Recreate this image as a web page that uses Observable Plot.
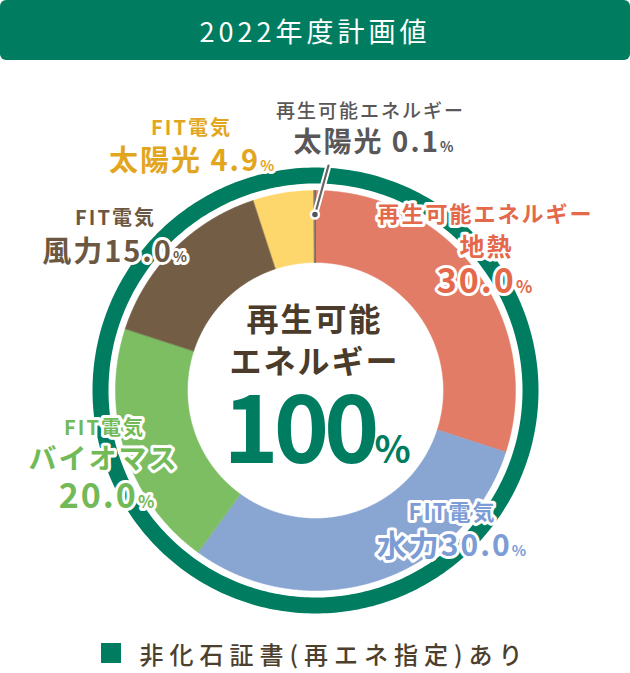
<!DOCTYPE html>
<html><head><meta charset="utf-8">
<script src="https://cdn.jsdelivr.net/npm/d3@7"></script>
<script src="https://cdn.jsdelivr.net/npm/@observablehq/plot@0.6"></script>
<style>
html,body{margin:0;padding:0;background:#fff;}
body{width:630px;height:673px;overflow:hidden;font-family:'Noto Sans CJK JP','Noto Sans',sans-serif;}
#title{height:60px;background:#007D60;border-radius:6px;color:#fff;font-size:27px;letter-spacing:4px;display:flex;align-items:center;justify-content:center;}
#chart{height:570px;}
#legend{height:43px;padding-top:3px;box-sizing:border-box;display:flex;align-items:center;justify-content:center;color:#4D3F2E;font-size:24px;font-weight:500;letter-spacing:6px;}
#legend .sw{display:inline-block;width:20px;height:20px;background:#007D60;margin-right:18px;}
</style></head><body>
<div id="title"></div>
<div id="chart"></div>
<div id="legend"><span class="sw"></span><span id="legtext"></span></div>
<script>
// ---- data ----
const titleText = "2022年度計画値";
const categories = ["地熱", "水力", "バイオマス", "風力", "太陽光(FIT)", "太陽光"];
const names = ["地熱", "水力", "バイオマス", "風力", "太陽光", "太陽光"];
const groups = ["再生可能エネルギー", "FIT電気", "FIT電気", "FIT電気", "FIT電気", "再生可能エネルギー"];
const values = [30.0, 30.0, 20.0, 15.0, 4.9, 0.1];
const centerLines = ["再生可能", "エネルギー"];
const legendText = "非化石証書(再エネ指定)あり";

// ---- styles ----
const sliceColors = ["#E27C66", "#89A5D2", "#7DBE63", "#735E45", "#FDD66C", "#666666"];
const labelColors = ["#E4694A", "#7C9CD5", "#72BA57", "#6C5842", "#E2A61E", "#595757"];
const green = "#007D60";
const brownText = "#4B3B2A";

// ---- layout (pixels relative to donut centre, y downward) ----
const R_OUT = 200, R_IN = 128, RING_R = 215, RING_W = 16;
const labelLayout = [
  [{t:"g", x:170, y:-176, s:22}, {t:"n", x:171, y:-143, s:25}, {t:"v", x:170, y:-108, s:34}],
  [{t:"g", x:137, y:122, s:22}, {t:"nv", x:137, y:156, s:30}],
  [{t:"g", x:-211, y:38, s:20}, {t:"n", x:-212, y:70, s:28}, {t:"v", x:-208, y:107, s:34}],
  [{t:"g", x:-200, y:-172, s:20}, {t:"nv", x:-200, y:-138, s:29}],
  [{t:"g", x:-124, y:-262, s:20}, {t:"n v", x:-123, y:-229, s:29}],
  [{t:"g", x:55, y:-279, s:19}, {t:"n v", x:59, y:-247, s:28}]
];
const leaderEnd = [13, -225];
const leaderDotR = 176;

document.getElementById("title").textContent = titleText;
document.getElementById("legtext").textContent = legendText;

// ---- geometry from data ----
const total = d3.sum(values);
const pt = (r, deg) => [r * Math.sin(deg * Math.PI / 180), -r * Math.cos(deg * Math.PI / 180)];
let acc = 0;
const slices = values.map((v, i) => {
  const a0 = acc / total * 360; acc += v; const a1 = acc / total * 360;
  const n = Math.max(2, Math.ceil((a1 - a0) / 0.5));
  const pts = [];
  for (let k = 0; k <= n; k++) pts.push(pt(R_OUT, a0 + (a1 - a0) * k / n));
  for (let k = n; k >= 0; k--) pts.push(pt(R_IN, a0 + (a1 - a0) * k / n));
  return {i, a0, a1, pts};
});
const ringPts = d3.range(0, 360, 1).map(a => pt(RING_R, a));

const fmt = v => v.toFixed(1) + "%";
const labelRows = [];
labelLayout.forEach((lines, i) => {
  lines.forEach(l => {
    const text = l.t === "g" ? groups[i] : l.t === "n" ? names[i] : l.t === "v" ? fmt(values[i])
      : l.t === "nv" ? names[i] + fmt(values[i]) : names[i] + " " + fmt(values[i]);
    labelRows.push({x: l.x, y: l.y, s: l.s, text, color: labelColors[i], w: l.t === "g" && i === 5 ? 500 : 700});
  });
});

const last = slices[slices.length - 1];
const dotPos = pt(leaderDotR, (last.a0 + last.a1) / 2);

const marks = [
  Plot.line(ringPts, {x: d => d[0], y: d => d[1], stroke: green, strokeWidth: RING_W, curve: "linear-closed"}),
  ...slices.map(s => Plot.line(s.pts, {x: d => d[0], y: d => d[1], fill: sliceColors[s.i], stroke: sliceColors[s.i], strokeWidth: s.i === 5 ? 0.8 : 0.5, curve: "linear-closed"})),
  Plot.line([dotPos, leaderEnd], {x: d => d[0], y: d => d[1], stroke: "white", strokeWidth: 6, strokeLinecap: "round"}),
  Plot.line([dotPos, leaderEnd], {x: d => d[0], y: d => d[1], stroke: sliceColors[5], strokeWidth: 2.2}),
  Plot.dot([dotPos], {x: d => d[0], y: d => d[1], r: 4, fill: "#555", stroke: "white", strokeWidth: 2.5}),
  ...labelRows.map(r => Plot.text([r], {x: "x", y: "y", text: "text", fill: r.color, fontSize: r.s, fontWeight: r.w,
      stroke: "white", strokeWidth: 6, strokeLinejoin: "round", paintOrder: "stroke", textAnchor: "middle"})),
  Plot.text(centerLines.map((t, k) => ({t, y: -70 + k * 42})), {x: () => -1, y: "y", text: "t", fill: brownText, fontSize: 32, fontWeight: 700, textAnchor: "middle"}),
  Plot.text([{t: d3.format(".0f")(total) + "%"}], {x: () => -1, y: () => 42, text: "t", fill: green, fontSize: 94, fontWeight: 700, textAnchor: "middle", ariaDescription: "big"})
];

const svg = Plot.plot({
  width: 630, height: 570, margin: 0,
  x: {domain: [-315, 315], range: [0, 630], axis: null},
  y: {domain: [-330, 240], range: [0, 570], axis: null},
  style: {fontFamily: "'Noto Sans CJK JP','Noto Sans',sans-serif", letterSpacing: "2px", background: "white", overflow: "visible"},
  marks
});

// smaller % sign
svg.querySelectorAll("text").forEach(t => {
  const big = t.closest("[aria-description=big]");
  const tsp = t.querySelectorAll("tspan");
  const targets = tsp.length ? [...tsp] : [t];
  targets.forEach(el => {
    const s = el.textContent;
    if (s.endsWith("%")) {
      el.textContent = s.slice(0, -1);
      const ts = document.createElementNS("http://www.w3.org/2000/svg", "tspan");
      ts.setAttribute("font-size", big ? "0.4em" : "0.5em");
      ts.textContent = "%";
      el.appendChild(ts);
    }
  });
  if (big) t.style.letterSpacing = "-5px";
});
document.getElementById("chart").appendChild(svg);
</script>
</body></html>
